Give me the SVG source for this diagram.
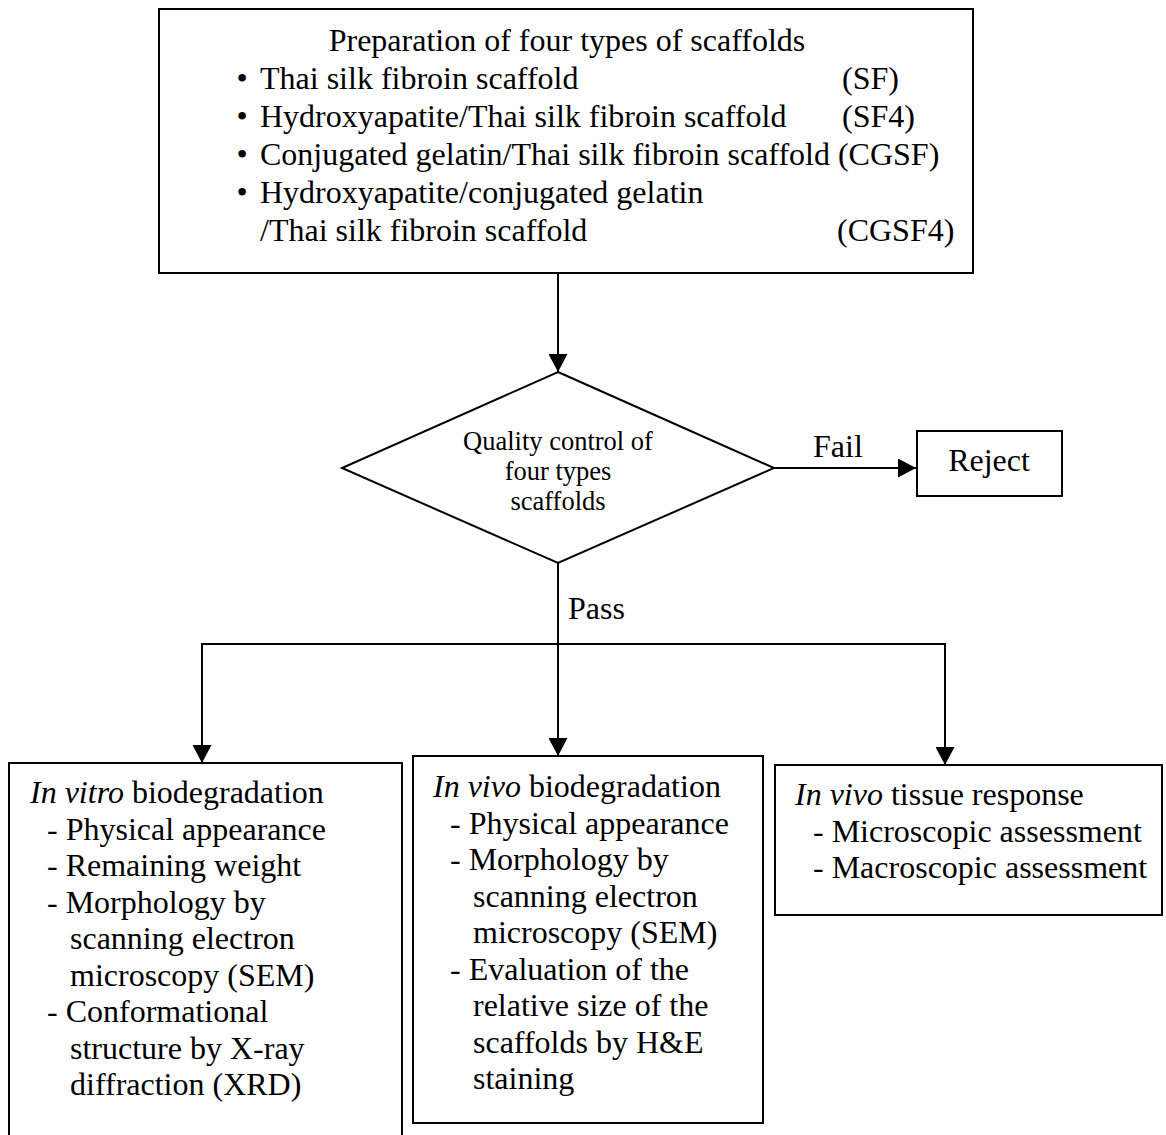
<svg xmlns="http://www.w3.org/2000/svg" width="1166" height="1135" viewBox="0 0 1166 1135">
<style>
text{font-family:"Liberation Serif","Times New Roman",serif;font-size:32px;fill:#000}
.sm{font-size:26.5px}
.box{fill:#fff;stroke:#000;stroke-width:2}
.ln{fill:none;stroke:#000;stroke-width:2}
.c{text-anchor:middle}
</style>
<defs>
<marker id="ah" markerWidth="18" markerHeight="19" refX="18" refY="9.5" orient="auto" markerUnits="userSpaceOnUse">
<path d="M0,0 L18,9.5 L0,19 Z" fill="#000"/>
</marker>
</defs>
<rect width="1166" height="1135" fill="#fff"/>
<g id="connectors">
<line class="ln" x1="558" y1="273" x2="558" y2="372" marker-end="url(#ah)"/>
<line class="ln" x1="774" y1="468" x2="916" y2="468" marker-end="url(#ah)"/>
<line class="ln" x1="558" y1="563" x2="558" y2="644"/>
<line class="ln" x1="202" y1="644" x2="945" y2="644"/>
<line class="ln" x1="202" y1="643" x2="202" y2="763" marker-end="url(#ah)"/>
<line class="ln" x1="558" y1="644" x2="558" y2="756" marker-end="url(#ah)"/>
<line class="ln" x1="945" y1="643" x2="945" y2="765" marker-end="url(#ah)"/>
<text x="813" y="457">Fail</text>
<text x="568" y="619">Pass</text>
</g>
<g id="prep">
<rect class="box" x="159" y="9" width="814" height="264"/>
<text class="c" x="567" y="51">Preparation of four types of scaffolds</text>
<text x="242" y="89" class="c">•</text><text x="260" y="89">Thai silk fibroin scaffold</text><text x="842" y="89">(SF)</text>
<text x="242" y="127" class="c">•</text><text x="260" y="127">Hydroxyapatite/Thai silk fibroin scaffold</text><text x="842" y="127">(SF4)</text>
<text x="242" y="165" class="c">•</text><text x="260" y="165">Conjugated gelatin/Thai silk fibroin scaffold (CGSF)</text>
<text x="242" y="203" class="c">•</text><text x="260" y="203">Hydroxyapatite/conjugated gelatin</text>
<text x="260" y="241">/Thai silk fibroin scaffold</text><text x="837" y="241">(CGSF4)</text>
</g>
<g id="qc">
<polygon class="box" points="558,372 774,468 558,563 342,468"/>
<text class="c sm" x="558" y="450">Quality control of</text>
<text class="c sm" x="558" y="480">four types</text>
<text class="c sm" x="558" y="510">scaffolds</text>
</g>
<g id="reject">
<rect class="box" x="917" y="431" width="145" height="65"/>
<text class="c" x="989" y="471">Reject</text>
</g>
<g id="invitro">
<rect class="box" x="9" y="763" width="393" height="390"/>
<text x="30" y="803"><tspan font-style="italic">In vitro</tspan> biodegradation</text>
<text x="47" y="839.5">- Physical appearance</text>
<text x="47" y="876">- Remaining weight</text>
<text x="47" y="912.5">- Morphology by</text>
<text x="70" y="949">scanning electron</text>
<text x="70" y="985.5">microscopy (SEM)</text>
<text x="47" y="1022">- Conformational</text>
<text x="70" y="1058.5">structure by X-ray</text>
<text x="70" y="1095">diffraction (XRD)</text>
</g>
<g id="invivo">
<rect class="box" x="413" y="756" width="350" height="367"/>
<text x="433" y="797"><tspan font-style="italic">In vivo</tspan> biodegradation</text>
<text x="450" y="833.5">- Physical appearance</text>
<text x="450" y="870">- Morphology by</text>
<text x="473" y="906.5">scanning electron</text>
<text x="473" y="943">microscopy (SEM)</text>
<text x="450" y="979.5">- Evaluation of the</text>
<text x="473" y="1016">relative size of the</text>
<text x="473" y="1052.5">scaffolds by H&amp;E</text>
<text x="473" y="1089">staining</text>
</g>
<g id="tissue">
<rect class="box" x="775" y="765" width="387" height="150"/>
<text x="795" y="805"><tspan font-style="italic">In vivo</tspan> tissue response</text>
<text x="813" y="842">- Microscopic assessment</text>
<text x="813" y="878">- Macroscopic assessment</text>
</g>
</svg>
